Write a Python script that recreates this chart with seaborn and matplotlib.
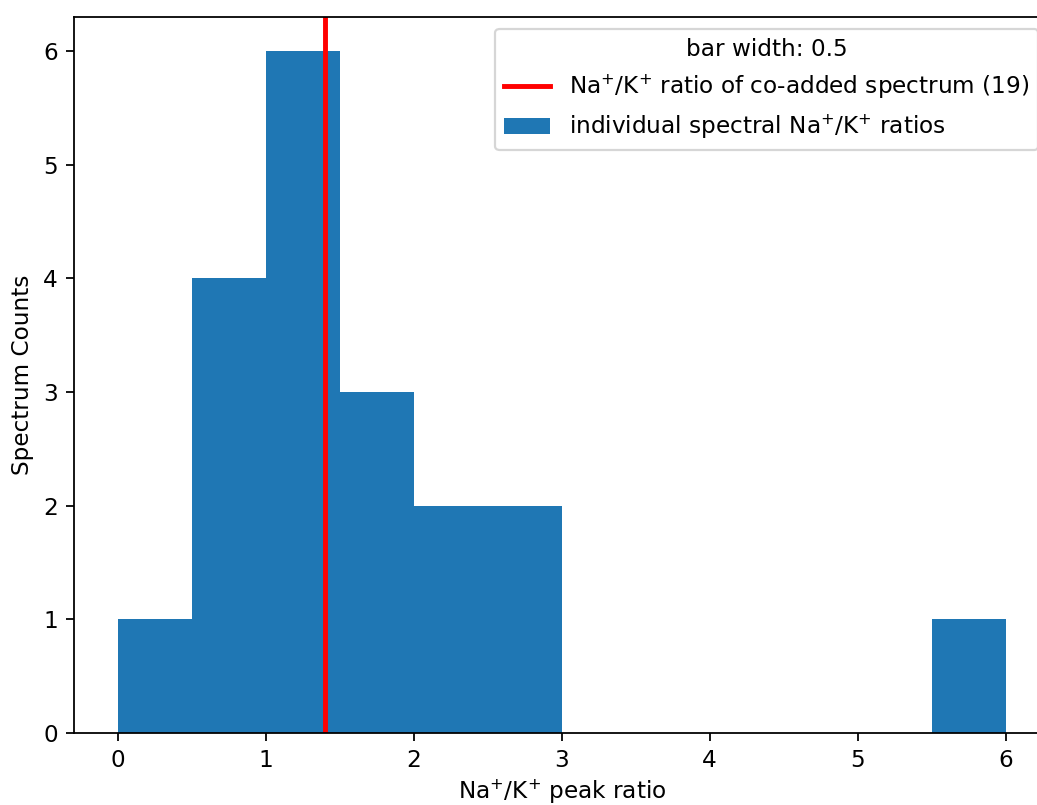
import matplotlib
matplotlib.use("Agg")
import matplotlib.pyplot as plt
import seaborn as sns
import numpy as np
import pandas as pd
from matplotlib.patches import Patch
from matplotlib.lines import Line2D

bin_edges = [0.0, 0.5, 1.0, 1.5, 2.0, 2.5, 3.0, 3.5, 4.0, 4.5, 5.0, 5.5, 6.0]
bin_counts = [1, 4, 6, 3, 2, 2, 0, 0, 0, 0, 0, 1]
coadded_ratio = 1.40

centers = [(a + b) / 2 for a, b in zip(bin_edges[:-1], bin_edges[1:])]
df = pd.DataFrame({"ratio": centers, "count": bin_counts})

plt.rcParams["font.size"] = 10.4

dpi = 160
fig = plt.figure(figsize=(1037 / dpi, 805 / dpi), dpi=dpi)
ax = fig.add_axes([73.6 / 1037, 72 / 805, (1050 - 73.6) / 1037, (733 - 17) / 805])

sns.histplot(data=df, x="ratio", weights="count", bins=bin_edges, ax=ax,
             color="#1f77b4", alpha=1, linewidth=0, element="bars")
ax.axvline(coadded_ratio, color="red", linewidth=2.2)

ax.set_xlim(-0.3, 6.3)
ax.set_ylim(0, 6.3)
ax.set_xticks([0, 1, 2, 3, 4, 5, 6])
ax.set_yticks([0, 1, 2, 3, 4, 5, 6])
ax.set_xlabel("Na$^{+}$/K$^{+}$ peak ratio", labelpad=2.5)
ax.set_ylabel("Spectrum Counts")

handles = [Line2D([0], [0], color="red", linewidth=2.2),
           Patch(facecolor="#1f77b4")]
labels = ["Na$^{+}$/K$^{+}$ ratio of co-added spectrum (19)",
          "individual spectral Na$^{+}$/K$^{+}$ ratios"]
ax.legend(handles, labels, title="bar width: 0.5", loc="upper right")

fig.savefig("out.png", dpi=dpi)
